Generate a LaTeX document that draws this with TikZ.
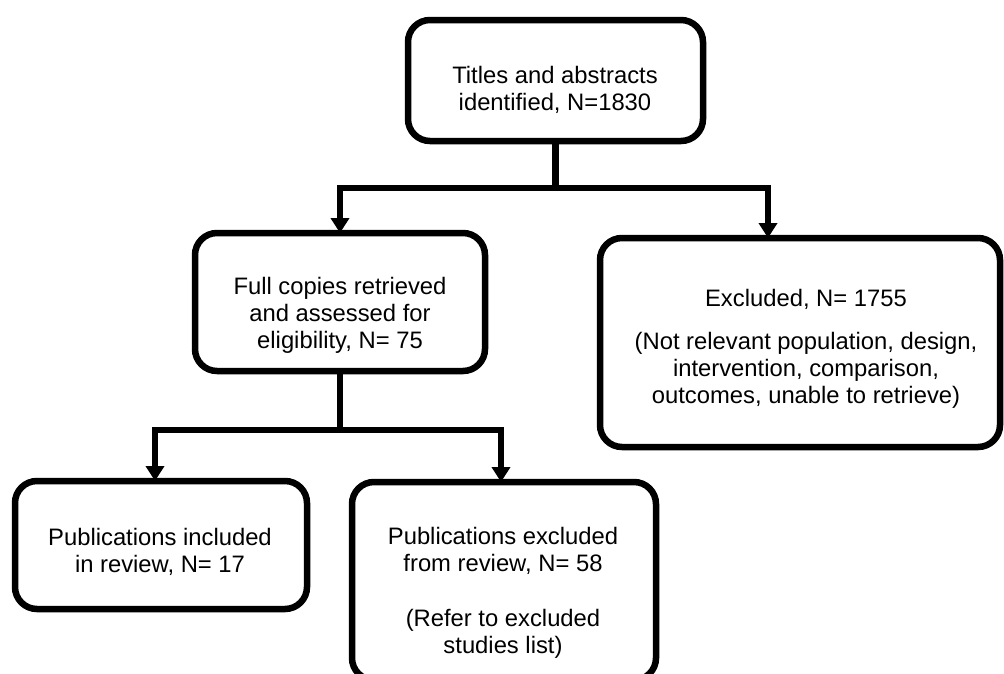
\documentclass[tikz,border=0pt]{standalone}
\usepackage{fontspec}
\setmainfont{Liberation Sans}
\usetikzlibrary{arrows.meta}
\begin{document}
\begin{tikzpicture}[x=1pt,y=-1pt,
  box/.style={draw=black, line width=6.5pt, rounded corners=22pt, outer sep=0pt, inner sep=0pt, fill=white},
  lbl/.style={align=center, font=\fontsize{23.8}{27}\selectfont, anchor=base, inner sep=0pt},
  link/.style={line width=6.5pt},
  arr/.style={line width=6.5pt, -{Triangle[width=18pt,length=15pt]}}]
\useasboundingbox (0,0) rectangle (1004,673);
\clip (0,0) rectangle (1004,673);
% boxes
\node[box, minimum width=295pt, minimum height=121pt] (b1) at (555.5,80.5) {};
\node[box, minimum width=290pt, minimum height=138pt] (b2) at (340,302) {};
\node[box, minimum width=400pt, minimum height=209pt] (b3) at (800,342.5) {};
\node[box, minimum width=292pt, minimum height=128pt] (b4) at (161,545) {};
\node[box, minimum width=304pt, minimum height=198pt] (b5) at (504,581) {};
% texts (anchored at the baseline of the last line)
\node[lbl] (t1) at (555,110) {Titles and abstracts\\identified, N=1830};
\node[lbl] (t2) at (340,348) {Full copies retrieved\\and assessed for\\eligibility, N= 75};
\node[lbl] (t3) at (806,403) {Excluded, N= 1755\\[16pt](Not relevant population, design,\\intervention, comparison,\\outcomes, unable to retrieve)};
\node[lbl] (t4) at (160,572) {Publications included\\in review, N= 17};
\node[lbl] (t5) at (503,653) {Publications excluded\\from review, N= 58\\[28pt](Refer to excluded\\studies list)};
% junction points
\coordinate (j1) at (555.5,188);
\coordinate (c3) at (768,188);
\coordinate (j2) at (340,430);
\coordinate (c4) at (155,430);
\coordinate (c5) at (501,430);
% connectors
\draw[link] (b1.south) -- (j1);
\draw[arr] (j1) -| (b2.north);
\draw[arr] (j1) -| (c3 |- b3.north);
\draw[link] (b2.south) -- (j2);
\draw[arr] (j2) -| (c4 |- b4.north);
\draw[arr] (j2) -| (c5 |- b5.north);
\end{tikzpicture}
\end{document}
